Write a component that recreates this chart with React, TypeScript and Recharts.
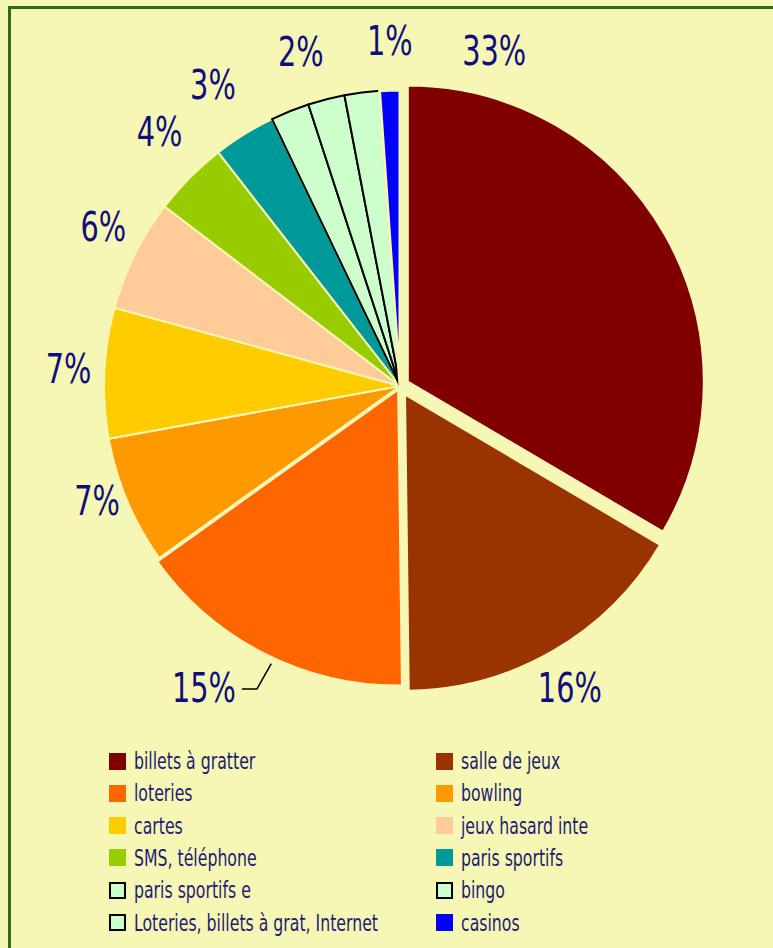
import React from 'react';
import { PieChart, Pie, Cell, Legend, Sector } from 'recharts';

// ---- data ----
const categories = [
  'billets à gratter',
  'salle de jeux',
  'loteries',
  'bowling',
  'cartes',
  'jeux hasard inte',
  'SMS, téléphone',
  'paris sportifs',
  'paris sportifs e',
  'bingo',
  'Loteries, billets à grat, Internet',
  'casinos',
];
const shares = [33.4, 16.3, 15.3, 7.0, 7.1, 6.1, 4.1, 3.4, 2.1, 2.0, 1.9, 1.1];
const sliceColors = [
  '#800000', '#993300', '#FF6600', '#FF9900', '#FFCC00', '#FFCC99',
  '#99CC00', '#009999', '#CCFFCC', '#CCFFCC', '#CCFFCC', '#0000FF',
];

// ---- style config ----
const BG = '#F7F7B5';
const LABEL_COLOR = '#0E0E7C';
const LEGEND_COLOR = '#1C1C74';
const FONT = '"DejaVu Sans Condensed", "DejaVu Sans", sans-serif';
const OUTLINED = [8, 9, 10];
const EXPLODE = [9, 10, 4, 0, 0, 0, 0, 0, 0, 0, 0, 0];
// label placement: angle clockwise from 12 o'clock (deg), distance from centre
const LABEL_LAYOUT: Array<{ a: number; r: number } | null> = [
  { a: 15.7, r: 348 },
  { a: 150.6, r: 346 },
  { a: 213, r: 360 },
  { a: 249.2, r: 324 },
  { a: 273, r: 332 },
  { a: 298.3, r: 337 },
  { a: 316.6, r: 350 },
  { a: 328.2, r: 355 },
  null,
  { a: 343.5, r: 349 },
  null,
  { a: 358.3, r: 345 },
];

const data = categories.map((name, i) => ({ name, value: shares[i] }));
const RAD = Math.PI / 180;

const renderSlice = (props: any) => {
  let idx = typeof props.index === 'number' ? props.index : -1;
  if (idx < 0) idx = categories.indexOf(props.payload?.name ?? props.name);
  const d = EXPLODE[idx] ?? 0;
  const dx = d * Math.cos(-props.midAngle * RAD);
  const dy = d * Math.sin(-props.midAngle * RAD);
  return (
    <Sector
      cx={props.cx + dx}
      cy={props.cy + dy}
      innerRadius={props.innerRadius}
      outerRadius={props.outerRadius}
      startAngle={props.startAngle}
      endAngle={props.endAngle}
      fill={props.fill}
      stroke={props.stroke}
      strokeWidth={props.strokeWidth}
      strokeLinejoin="round"
    />
  );
};

const renderLabel = (p: any) => {
  const i = p.index;
  const cfg = LABEL_LAYOUT[i];
  if (!cfg) return null;
  const t = cfg.a * RAD;
  const x = p.cx + cfg.r * Math.sin(t);
  const y = p.cy - cfg.r * Math.cos(t);
  let leader = null;
  if (i === 2) {
    const m = (90 - p.midAngle - 2) * RAD;
    const ax = p.cx + (p.outerRadius + 10) * Math.sin(m);
    const ay = p.cy - (p.outerRadius + 10) * Math.cos(m);
    const lx = x + 38;
    leader = (
      <polyline
        points={`${lx},${y + 1} ${lx + 15},${y + 1} ${ax},${ay}`}
        fill="none"
        stroke="#000"
        strokeWidth={1.5}
      />
    );
  }
  return (
    <g key={`lbl-${i}`}>
      {leader}
      <text
        transform={`translate(${x},${y}) scale(0.8,1.02)`}
        x={0}
        y={0}
        dy={14}
        textAnchor="middle"
        fontSize={40}
        fontFamily={FONT}
        fill={LABEL_COLOR}
      >
        {`${Math.round(p.value)}%`}
      </text>
    </g>
  );
};

const LEGEND_TOP = 745;
const renderLegend = (props: any) => {
  const payload: any[] = props?.payload && props.payload.length ? props.payload : data.map((d) => ({ value: d.name }));
  return (
    <div style={{ position: 'relative', width: 773, height: 190, fontFamily: FONT }}>
      {payload.map((entry: any, k: number) => {
        const name = entry.value;
        const i = categories.indexOf(name) >= 0 ? categories.indexOf(name) : k;
        const col = i % 2;
        const row = Math.floor(i / 2);
        const cy = 761 + row * 32.3 - LEGEND_TOP;
        const sqLeft = col === 0 ? 109 : 436;
        const txtLeft = col === 0 ? 134 : 461;
        const outlined = OUTLINED.includes(i);
        return (
          <React.Fragment key={name}>
            <div
              style={{
                position: 'absolute',
                left: sqLeft,
                top: cy - 8.5,
                width: 17,
                height: 17,
                boxSizing: 'border-box',
                background: sliceColors[i],
                border: outlined ? '2px solid #000' : 'none',
              }}
            />
            <div
              style={{
                position: 'absolute',
                left: txtLeft,
                top: cy - 14,
                fontSize: 23,
                lineHeight: '28px',
                color: LEGEND_COLOR,
                whiteSpace: 'nowrap',
                transform: 'scaleX(0.76)',
                transformOrigin: '0 50%',
              }}
            >
              {name}
            </div>
          </React.Fragment>
        );
      })}
    </div>
  );
};

export default function App() {
  return (
    <div
      style={{
        position: 'fixed',
        left: 0,
        top: 0,
        width: 773,
        height: 948,
        background: BG,
        overflow: 'hidden',
      }}
    >
      <div
        style={{
          position: 'absolute',
          left: 8,
          top: 6,
          width: 820,
          height: 1000,
          border: '3px solid #336B10',
          boxSizing: 'border-box',
        }}
      />
      <div style={{ position: 'absolute', left: 0, top: 0 }}>
        <PieChart width={773} height={948} margin={{ top: 0, right: 0, bottom: 0, left: 0 }}>
          <Pie
            data={data}
            dataKey="value"
            nameKey="name"
            cx={400}
            cy={386}
            innerRadius={0}
            outerRadius={296}
            startAngle={90}
            endAngle={-270}
            isAnimationActive={false}
            label={renderLabel}
            labelLine={false}
            shape={renderSlice}
          >
            {data.map((d, i) => (
              <Cell
                key={d.name}
                fill={sliceColors[i]}
                stroke={OUTLINED.includes(i) ? '#000' : BG}
                strokeWidth={OUTLINED.includes(i) ? 2 : i === 11 ? 3 : 2}
              />
            ))}
          </Pie>
          <Legend
            content={renderLegend}
            wrapperStyle={{ position: 'absolute', left: 0, top: LEGEND_TOP, bottom: 'auto', width: 773, height: 190 }}
          />
        </PieChart>
      </div>
    </div>
  );
}
